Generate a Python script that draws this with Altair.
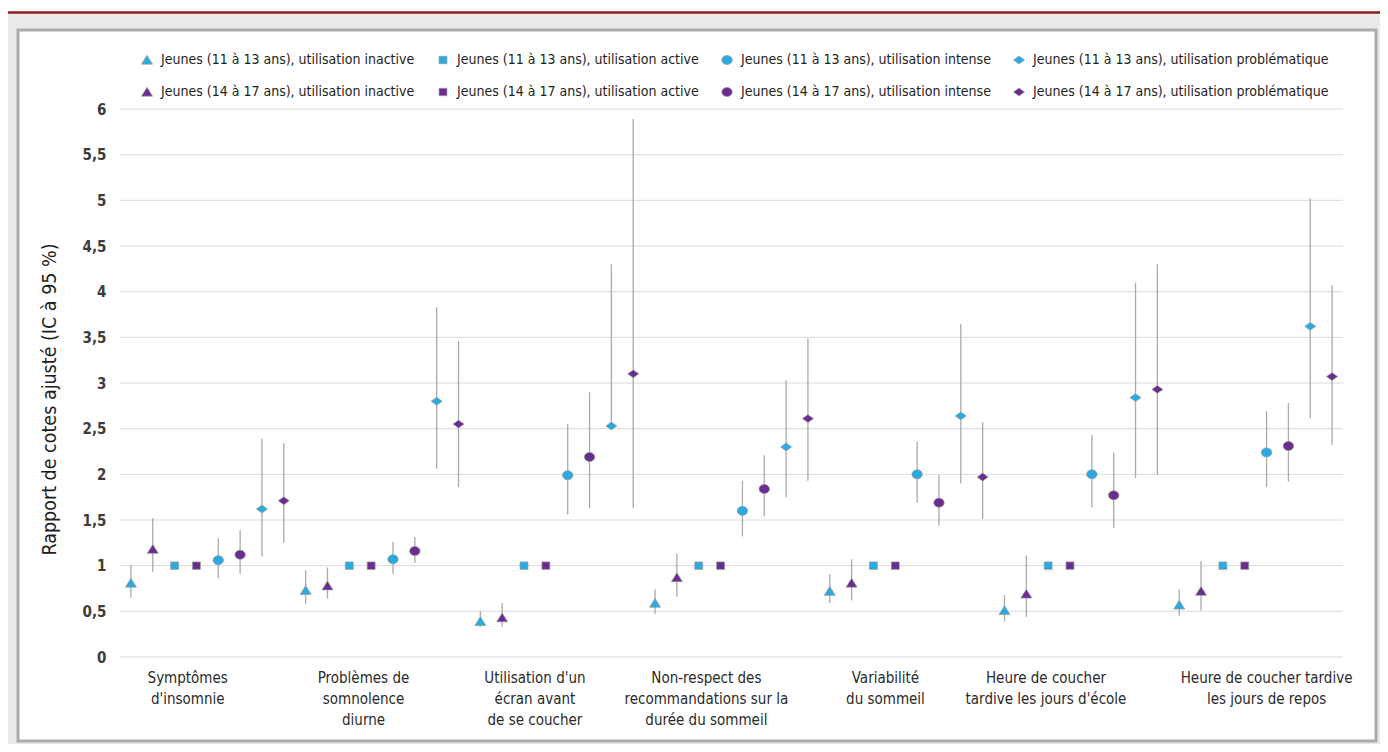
import altair as alt
import pandas as pd
import numpy as np

FONT = "Liberation Sans Narrow, Arial Narrow, DejaVu Sans Condensed, sans-serif"

# ---------------- data ----------------
groupes = [
    "Symptômes\nd'insomnie",
    "Problèmes de\nsomnolence\ndiurne",
    "Utilisation d'un\nécran avant\nde se coucher",
    "Non-respect des\nrecommandations sur la\ndurée du sommeil",
    "Variabilité\ndu sommeil",
    "Heure de coucher\ntardive les jours d'école",
    "Heure de coucher tardive\nles jours de repos",
]

series = [
    "Jeunes (11 à 13 ans), utilisation inactive",
    "Jeunes (14 à 17 ans), utilisation inactive",
    "Jeunes (11 à 13 ans), utilisation active",
    "Jeunes (14 à 17 ans), utilisation active",
    "Jeunes (11 à 13 ans), utilisation intense",
    "Jeunes (14 à 17 ans), utilisation intense",
    "Jeunes (11 à 13 ans), utilisation problématique",
    "Jeunes (14 à 17 ans), utilisation problématique",
]

# odds ratios per group (series order as above)
rc_valeur = [
    [0.81, 1.18, 1.00, 1.00, 1.06, 1.12, 1.62, 1.71],
    [0.73, 0.78, 1.00, 1.00, 1.07, 1.16, 2.80, 2.55],
    [0.39, 0.43, 1.00, 1.00, 1.99, 2.19, 2.53, 3.10],
    [0.59, 0.87, 1.00, 1.00, 1.60, 1.84, 2.30, 2.61],
    [0.72, 0.81, 1.00, 1.00, 2.00, 1.69, 2.64, 1.97],
    [0.51, 0.69, 1.00, 1.00, 2.00, 1.77, 2.84, 2.93],
    [0.57, 0.72, 1.00, 1.00, 2.24, 2.31, 3.62, 3.07],
]
ic_bas = [
    [0.65, 0.93, None, None, 0.86, 0.91, 1.10, 1.25],
    [0.58, 0.64, None, None, 0.91, 1.03, 2.06, 1.86],
    [0.33, 0.33, None, None, 1.56, 1.63, 2.53, 1.63],
    [0.47, 0.66, None, None, 1.32, 1.54, 1.75, 1.93],
    [0.59, 0.62, None, None, 1.69, 1.44, 1.90, 1.51],
    [0.39, 0.44, None, None, 1.64, 1.41, 1.96, 1.99],
    [0.45, 0.51, None, None, 1.86, 1.92, 2.61, 2.32],
]
ic_haut = [
    [1.01, 1.52, None, None, 1.30, 1.39, 2.39, 2.34],
    [0.95, 0.98, None, None, 1.26, 1.31, 3.83, 3.46],
    [0.50, 0.59, None, None, 2.55, 2.90, 4.30, 5.89],
    [0.74, 1.13, None, None, 1.93, 2.21, 3.03, 3.49],
    [0.905, 1.07, None, None, 2.36, 1.99, 3.65, 2.57],
    [0.68, 1.11, None, None, 2.43, 2.24, 4.10, 4.30],
    [0.74, 1.05, None, None, 2.69, 2.78, 5.02, 4.07],
]

y_ticks = [0, 0.5, 1, 1.5, 2, 2.5, 3, 3.5, 4, 4.5, 5, 5.5, 6]

# ---------------- styling ----------------
BLUE = "#29ABE2"
PURPLE = "#6A2C91"
TRI = "M 0 -0.85 L 1 0.75 L -1 0.75 Z"
SQR = "M -0.72 -0.68 L 0.72 -0.68 L 0.72 0.68 L -0.72 0.68 Z"
ELL = "M -0.95 0 A 0.95 0.82 0 1 0 0.95 0 A 0.95 0.82 0 1 0 -0.95 0 Z"
DIA = "M 0 -0.72 L 1 0 L 0 0.72 L -1 0 Z"

# legend is filled column by column (2 rows)
legend_order = series
legend_colors = [BLUE, PURPLE, BLUE, PURPLE, BLUE, PURPLE, BLUE, PURPLE]
legend_shapes = [TRI, TRI, SQR, SQR, ELL, ELL, DIA, DIA]

W, H = 1223, 548
NSER = len(series)

rows = []
for g in range(len(groupes)):
    for s in range(NSER):
        rows.append({
            "idx": g * NSER + s,
            "serie": series[s],
            "rc": rc_valeur[g][s],
            "lo": ic_bas[g][s],
            "hi": ic_haut[g][s],
        })
df = pd.DataFrame(rows)
df_err = df.dropna(subset=["lo", "hi"])

label_shift = [-0.9, -0.85, -1.0, -1.15, -0.95, -1.6, 0.5]
df_lab = pd.DataFrame({
    "lx": [g * NSER + (NSER - 1) / 2 + label_shift[g] for g in range(len(groupes))],
    "txt": groupes,
})
df_grid = pd.DataFrame({"t": y_ticks})
one = pd.DataFrame({"k": [0]})

xscale = alt.Scale(domain=[-0.5, NSER * len(groupes) - 0.5], nice=False, zero=False)
yscale = alt.Scale(domain=[0, 6], nice=False)
yaxis = alt.Axis(
    values=y_ticks,
    labelExpr="replace(format(datum.value, '.1~f'), '.', ',')",
    grid=False, domain=False, ticks=False, zindex=2,
    labelFont=FONT, labelFontSize=15, labelFontWeight="bold", labelColor="#3c3c3c",
    labelPadding=14,
    title="Rapport de cotes ajusté (IC à 95 %)",
    titleFont=FONT, titleFontSize=19.5, titleFontWeight="normal", titleColor="#1e1e1e",
    titlePadding=23, titleY=290,
)

# ---------------- decorations ----------------
panel = alt.Chart(one).mark_rect(
    fill="white", stroke="#ABABAB", strokeWidth=3
).encode(x=alt.value(-102), x2=alt.value(1256), y=alt.value(-79), y2=alt.value(632))

white_top = alt.Chart(one).mark_rect(fill="white").encode(
    x=alt.value(-120), x2=alt.value(1270), y=alt.value(-102), y2=alt.value(-97))

red_line = alt.Chart(one).mark_rule(color="#8E1B1B", strokeWidth=2.6).encode(
    x=alt.value(-120), x2=alt.value(1270), y=alt.value(-96.5))

grid = alt.Chart(df_grid).mark_rule(color="#DADADA", strokeWidth=1).encode(
    y=alt.Y("t:Q", scale=yscale, axis=yaxis),
    x=alt.value(0), x2=alt.value(W),
)

# ---------------- data marks ----------------
err = alt.Chart(df_err).mark_rule(color="#AAAAAA", strokeWidth=1.3).encode(
    x=alt.X("idx:Q", scale=xscale, axis=None),
    y=alt.Y("lo:Q", scale=yscale, axis=yaxis),
    y2="hi:Q",
)

leg = alt.Legend(
    orient="none", legendX=20, legendY=-56, columns=4, title=None,
    labelFont=FONT, labelFontSize=14, labelColor="#1e1e1e", labelLimit=0,
    labelOffset=7, columnPadding=21, rowPadding=18, symbolSize=121,
    symbolStrokeWidth=0.7, symbolStrokeColor="#9a9a9a",
)

pts = alt.Chart(df).mark_point(
    filled=True, size=121, opacity=1, stroke="#9a9a9a", strokeWidth=0.7
).encode(
    x=alt.X("idx:Q", scale=xscale, axis=None),
    y=alt.Y("rc:Q", scale=yscale, axis=yaxis),
    color=alt.Color("serie:N", scale=alt.Scale(domain=legend_order, range=legend_colors), legend=leg),
    shape=alt.Shape("serie:N", scale=alt.Scale(domain=legend_order, range=legend_shapes), legend=leg),
)

labels = alt.Chart(df_lab).mark_text(
    font=FONT, fontSize=15, color="#2a2a2a", align="center", baseline="top",
    lineBreak="\n", lineHeight=21,
).encode(
    x=alt.X("lx:Q", scale=xscale, axis=None),
    y=alt.value(H + 14),
    text="txt:N",
)

chart = alt.layer(panel, white_top, red_line, grid, err, pts, labels).properties(
    width=W, height=H,
    autosize=alt.AutoSizeParams(type="none"),
    padding={"left": 112, "top": 101, "right": 37, "bottom": 87},
    background="#E9EAEA",
).configure_view(stroke=None)

chart.save("out.html", embed_options={"renderer": "svg", "actions": False})
